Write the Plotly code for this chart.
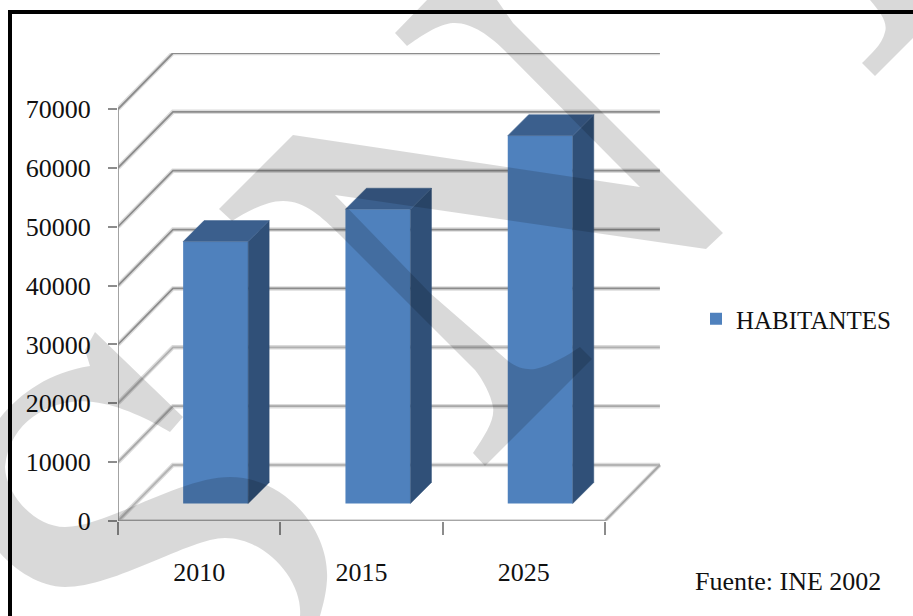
import plotly.graph_objects as go

YEARS = ["2010", "2015", "2025"]
HABITANTES = [44500, 50000, 62500]
Y_TICKS = [0, 10000, 20000, 30000, 40000, 50000, 60000, 70000]
Y_LABELS = ["0", "10000", "20000", "30000", "40000", "50000", "60000", "70000"]
SERIES_NAME = "HABITANTES"
SOURCE = "Fuente: INE 2002"

# plot frame in page pixels
L, R, T, B = 118, 661, 53, 521
W, H = 913, 616
PX_CAT = 162.3
PX_UNIT = 412 / 70000
X0 = -0.5
X_RANGE = [X0, X0 + (R - L) / PX_CAT]
Y_RANGE = [0, (B - T) / PX_UNIT]

# oblique depth in axis units
DEPTH_X = 55 / PX_CAT
DEPTH_Y = 56 / PX_UNIT
BAR_FRONT_Y = 17.5 / PX_UNIT
BAR_OFFSET = -16 / PX_CAT
BAR_W = 65 / PX_CAT
BAR_DX = 21 / PX_CAT
BAR_DY = 21 / PX_UNIT

FRONT = "#4F81BD"
SIDE = "#305078"
TOP = "#3B5F8D"
FONT = "Liberation Serif"

fig = go.Figure()


def line(xs, ys, color, width):
    fig.add_trace(go.Scatter(x=xs, y=ys, mode="lines", line=dict(color=color, width=width),
                             showlegend=False, hoverinfo="skip", xaxis="x", yaxis="y"))


def face(xs, ys, color):
    fig.add_trace(go.Scatter(x=xs, y=ys, mode="lines", fill="toself", fillcolor=color,
                             line=dict(color=color, width=0.5), showlegend=False,
                             hoverinfo="skip", xaxis="x2", yaxis="y2"))


x_end = X0 + len(YEARS)
core = ["#b4b4b4", "#a8a8a8", "#b0b0b0", "#8c8c8c", "#8c8c8c", "#8c8c8c", "#8c8c8c", "#8c8c8c"]
for v, c in zip(Y_TICKS, core):
    xs = [X0, X0 + DEPTH_X, x_end + DEPTH_X]
    ys = [v, v + DEPTH_Y, v + DEPTH_Y]
    line(xs, ys, "rgba(190,190,190,0.55)", 4.5)
    line(xs, ys, c, 1.8)

line([X0, x_end, x_end + DEPTH_X], [0, 0, DEPTH_Y], "rgba(190,190,190,0.55)", 4)
line([X0, x_end, x_end + DEPTH_X], [0, 0, DEPTH_Y], "#a6a6a6", 1.8)
line([X0, X0], [0, Y_TICKS[-1]], "#8c8c8c", 1.6)

fig.add_trace(go.Bar(x=list(range(len(YEARS))), y=HABITANTES, base=BAR_FRONT_Y, width=BAR_W,
                     offset=BAR_OFFSET, name=SERIES_NAME, marker=dict(color=FRONT, line=dict(width=0)),
                     xaxis="x2", yaxis="y2"))

for i, v in enumerate(HABITANTES):
    x1 = i + BAR_OFFSET
    x2 = x1 + BAR_W
    y1 = BAR_FRONT_Y
    y2 = y1 + v
    face([x2, x2 + BAR_DX, x2 + BAR_DX, x2, x2], [y1, y1 + BAR_DY, y2 + BAR_DY, y2, y1], SIDE)
    face([x1, x1 + BAR_DX, x2 + BAR_DX, x2, x1], [y2, y2 + BAR_DY, y2 + BAR_DY, y2, y2], TOP)


def pt(x, y):
    return f"{(x - L) / (R - L):.5f},{(B - y) / (B - T):.5f}"


def path(start, cmds):
    s = "M" + pt(*start)
    for c in cmds:
        if len(c) == 1:
            s += " L" + pt(*c[0])
        else:
            s += " C" + " ".join(pt(*p) for p in c)
    return s + " Z"


# watermark outline, page pixels
mark_s = path((95, 332), [
    [(183, 417)], [(170, 432)],
    [(150, 420), (120, 405), (93, 402)],
    [(60, 397), (10, 415), (5, 467)],
    [(6, 495), (35, 527), (65, 527)],
    [(105, 527), (180, 477), (230, 477)],
    [(285, 477), (330, 530), (327, 580)],
    [(326, 595), (323, 605), (320, 616)],
    [(300, 616)],
    [(303, 580), (265, 538), (225, 538)],
    [(190, 538), (115, 587), (65, 587)],
    [(40, 587), (15, 570), (0, 553)],
    [(0, 418)],
    [(20, 393), (50, 372), (90, 366)],
    [(85, 350)],
])
mark_n = path((293, 135), [
    [(640, 187)], [(613, 160)], [(507, 53)],
    [(490, 35), (470, 22), (453, 23)],
    [(438, 24), (420, 37), (407, 46)],
    [(395, 33)], [(427, 0)], [(497, 0)], [(513, 23)],
    [(723, 233)], [(706, 249)], [(335, 195)],
    [(430, 293)], [(507, 360)],
    [(517, 369), (528, 370), (535, 369)],
    [(550, 366), (568, 355), (580, 347)],
    [(592, 359)], [(485, 466)], [(473, 453)],
    [(485, 435), (495, 420), (493, 407)],
    [(491, 395), (483, 380), (475, 370)],
    [(450, 345)], [(340, 235)],
    [(322, 217), (305, 201), (283, 201)],
    [(265, 201), (245, 213), (232, 221)],
    [(219, 209)],
])
mark_r = path((870, 0), [
    [(880, 12), (888, 22), (885, 32)],
    [(882, 45), (870, 55), (862, 63)],
    [(875, 76)], [(913, 38)], [(913, 0)],
])

shapes = []
for x0, y0, x1, y1 in [(8, 10, 12, 616), (8, 10, 913, 14)]:
    shapes.append(dict(type="rect", xref="paper", yref="paper",
                       x0=(x0 - L) / (R - L), x1=(x1 - L) / (R - L),
                       y0=(B - y1) / (B - T), y1=(B - y0) / (B - T),
                       fillcolor="black", line=dict(width=0), layer="above"))
for p in (mark_s, mark_n, mark_r):
    shapes.append(dict(type="path", xref="paper", yref="paper", path=p,
                       fillcolor="rgba(0,0,0,0.15)", line=dict(width=0), layer="above"))

fig.update_layout(
    width=W, height=H, autosize=False,
    margin=dict(l=L, r=W - R, t=T, b=H - B, pad=0),
    paper_bgcolor="white", plot_bgcolor="white",
    font=dict(family=FONT, size=26, color="#111111"),
    xaxis=dict(range=X_RANGE, tickmode="array", tickvals=list(range(len(YEARS))), ticktext=YEARS,
               ticks="", showgrid=False, zeroline=False, showline=False, ticklabelstandoff=33,
               minor=dict(tickmode="array", tickvals=[X0 + i for i in range(len(YEARS) + 1)],
                          ticks="outside", ticklen=13, tickwidth=1.5, tickcolor="#8c8c8c", showgrid=False),
               fixedrange=True),
    yaxis=dict(range=Y_RANGE, tickmode="array", tickvals=Y_TICKS, ticktext=Y_LABELS, ticks="outside",
               ticklen=9, tickwidth=1.5, tickcolor="#8c8c8c", showgrid=False, zeroline=False,
               showline=False, ticklabelstandoff=12, fixedrange=True),
    xaxis2=dict(range=X_RANGE, overlaying="x", visible=False, fixedrange=True),
    yaxis2=dict(range=Y_RANGE, overlaying="y", visible=False, fixedrange=True),
    showlegend=True,
    legend=dict(xref="paper", yref="paper", x=(696 - L) / (R - L), y=(B - 319) / (B - T),
                xanchor="left", yanchor="middle", bgcolor="rgba(0,0,0,0)", borderwidth=0,
                font=dict(family=FONT, size=25, color="#111111")),
    annotations=[dict(text=SOURCE, xref="paper", yref="paper", x=(787.5 - L) / (R - L), y=(B - 581) / (B - T),
                      xanchor="center", yanchor="middle", showarrow=False,
                      font=dict(family=FONT, size=26, color="#111111"))],
    shapes=shapes,
)

fig.write_html("out.html", config={"displayModeBar": False},
               post_script="document.body.style.margin='0';document.body.style.overflow='hidden';")
